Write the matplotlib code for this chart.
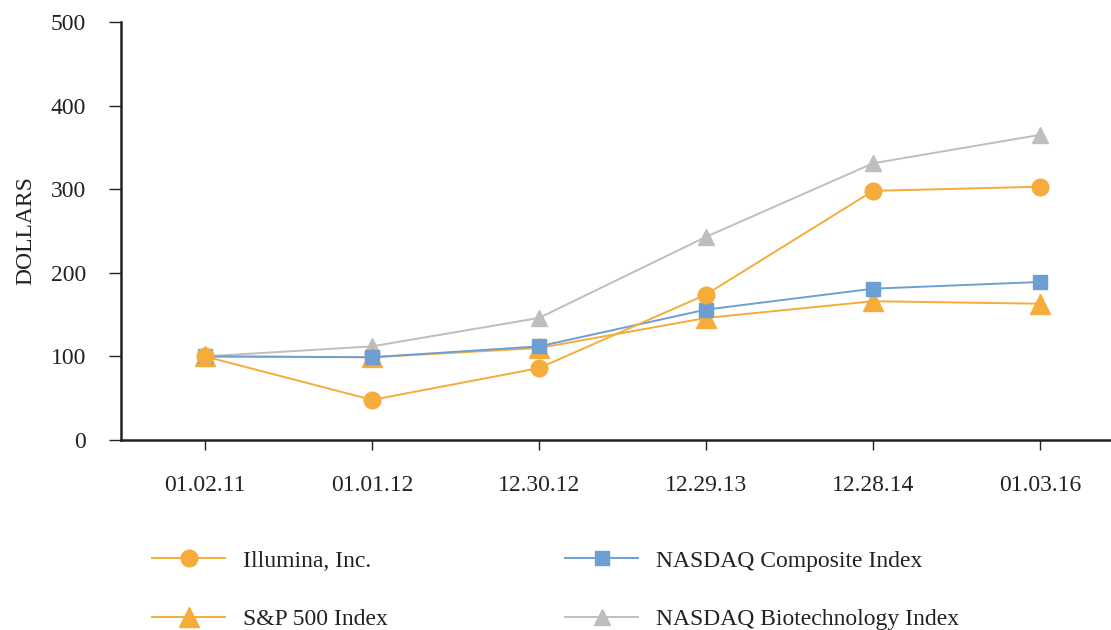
import matplotlib
matplotlib.use('Agg')
import matplotlib.pyplot as plt

# ── Datos ──────────────────────────────────────────────────────────────────
fechas    = ['01.02.11', '01.01.12', '12.30.12', '12.29.13', '12.28.14', '01.03.16']
illumina  = [100, 48, 86, 174, 298, 303]
nasdaq    = [100, 99, 112, 156, 181, 189]
sp500     = [100, 99, 110, 146, 166, 163]
biotech   = [100, 112, 146, 243, 331, 365]

plt.rcParams['font.family'] = ['Liberation Serif', 'DejaVu Serif']

NARANJA = '#F5AC3A'
AZUL    = '#6D9FD2'
GRIS    = '#BEBEBE'
TEXTO   = '#222222'
FS      = 17

fig = plt.figure(figsize=(11.11, 6.30), dpi=100, facecolor='white')
ax = fig.add_axes([121/1111, 190/630, 1 - 121/1111, 418/630])

x = list(range(len(fechas)))

ln_bio, = ax.plot(x, biotech, color=GRIS, lw=1.4, marker='^', ms=12,
                  mfc=GRIS, mec=GRIS, label='NASDAQ Biotechnology Index', zorder=2)
ln_sp,  = ax.plot(x, sp500, color=NARANJA, lw=1.4, marker='^', ms=14,
                  mfc=NARANJA, mec=NARANJA, label='S&P 500 Index', zorder=3)
ln_nas, = ax.plot(x, nasdaq, color=AZUL, lw=1.4, marker='s', ms=10,
                  mfc=AZUL, mec=AZUL, label='NASDAQ Composite Index', zorder=4)
ln_ill, = ax.plot(x, illumina, color=NARANJA, lw=1.4, marker='o', ms=12,
                  mfc=NARANJA, mec=NARANJA, label='Illumina, Inc.', zorder=5)

ax.set_xlim(-0.503, 5.425)
ax.set_ylim(0, 500)
ax.set_xticks(x)
ax.set_xticklabels(fechas)
ax.set_yticks(range(0, 501, 100))

for s in ['top', 'right']:
    ax.spines[s].set_visible(False)
for s in ['left', 'bottom']:
    ax.spines[s].set_linewidth(1.8)
    ax.spines[s].set_color(TEXTO)

ax.tick_params(axis='y', direction='out', length=9, width=1, labelsize=FS,
               pad=16, colors=TEXTO)
ax.tick_params(axis='x', direction='out', length=7, width=1, labelsize=FS,
               pad=18, colors=TEXTO)

fig.text(26/1111, 1 - 231/630, 'DOLLARS', rotation=90, fontsize=FS,
         ha='center', va='center', color=TEXTO)

# Leyenda en dos columnas colocadas a mano
opts = dict(loc='upper left', frameon=False, fontsize=FS, handlelength=3.1,
            handletextpad=0.75, labelspacing=1.56, borderpad=0, borderaxespad=0)
leg1 = fig.legend(handles=[ln_ill, ln_sp], bbox_to_anchor=(152/1111, 1 - 550/630), **opts)
leg2 = fig.legend(handles=[ln_nas, ln_bio], bbox_to_anchor=(565/1111, 1 - 550/630), **opts)
for leg in (leg1, leg2):
    for t in leg.get_texts():
        t.set_color(TEXTO)

fig.savefig('out.png', dpi=100, facecolor='white')
